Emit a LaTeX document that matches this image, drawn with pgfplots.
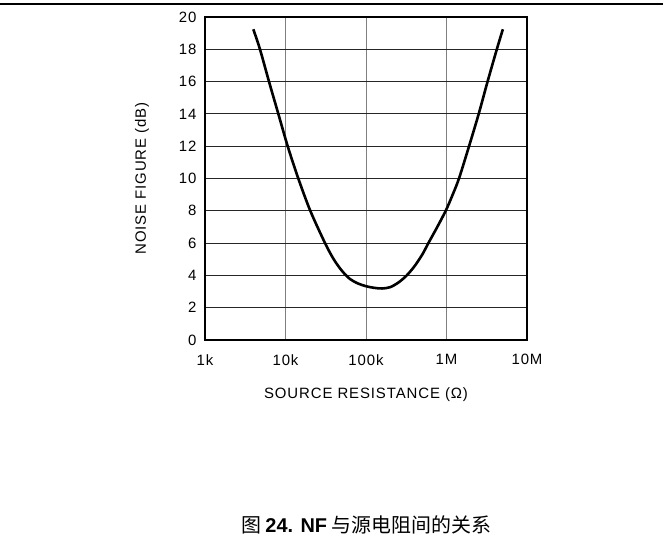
\documentclass[border=0pt]{standalone}
\usepackage{pgfplots}
\pgfplotsset{compat=1.18}
\usepackage{fontspec}
\setmainfont{Liberation Sans}
\newfontfamily\labelfont[LetterSpace=6]{Liberation Sans}
\newfontfamily\cjk{Noto Sans CJK SC}
\begin{document}
\begin{tikzpicture}[x=1bp,y=1bp]
\useasboundingbox (0,0) rectangle (663,546);
\draw[line width=1.2bp] (0,542) -- (663,542);
\begin{axis}[
  at={(205bp,206bp)}, anchor=south west,
  scale only axis, width=322bp, height=323bp,
  xmode=log, log basis x=10,
  xmin=1e3, xmax=1e7, ymin=0, ymax=20,
  xtick={1e3,1e4,1e5,1e6,1e7},
  xticklabels={1k,10k,100k,1M,10M},
  ytick={0,2,4,6,8,10,12,14,16,18,20},
  /pgf/number format/assume math mode=true,
  major tick length=0pt, minor tick length=0pt,
  xmajorgrids, ymajorgrids,
  x grid style={line width=0.8bp, black!50},
  y grid style={line width=0.8bp, black!85},
  axis line style={line width=1.3bp},
  ticklabel style={font=\labelfont\fontsize{15}{15}\selectfont},
  xticklabel style={yshift=-11bp},
  yticklabel style={xshift=-5bp},
  xlabel={SOURCE RESISTANCE (Ω)},
  ylabel={NOISE FIGURE (dB)},
  every axis x label/.style={at={(axis description cs:0.5,-0.1703)}, anchor=center, font=\labelfont\fontsize{15}{15}\selectfont},
  every axis y label/.style={at={(axis description cs:-0.1957,0.5)}, anchor=center, rotate=90, font=\labelfont\fontsize{15}{15}\selectfont},
]
\addplot[line width=2.6bp, black, smooth] coordinates {
(3981,19.24) (4819,18) (6237,16) (8147,14) (10640,12) (14420,10)
(20320,8) (30970,6) (39811,4.99) (50119,4.29) (63096,3.78) (79433,3.5)
(100000,3.33) (125893,3.23) (158489,3.19) (199526,3.27) (251189,3.55)
(316228,3.97) (398107,4.55) (501187,5.3) (595662,6) (758578,6.95)
(977237,8) (1174898,8.92) (1428894,10) (1905461,12) (2511886,14)
(3235937,16) (4216965,18) (5011872,19.24)
};
\end{axis}
\node[font=\fontsize{20}{20}\selectfont] at (366,21) {\cjk 图 {\fontspec{Liberation Sans}\bfseries 24. NF} 与源电阻间的关系};
\end{tikzpicture}
\end{document}
